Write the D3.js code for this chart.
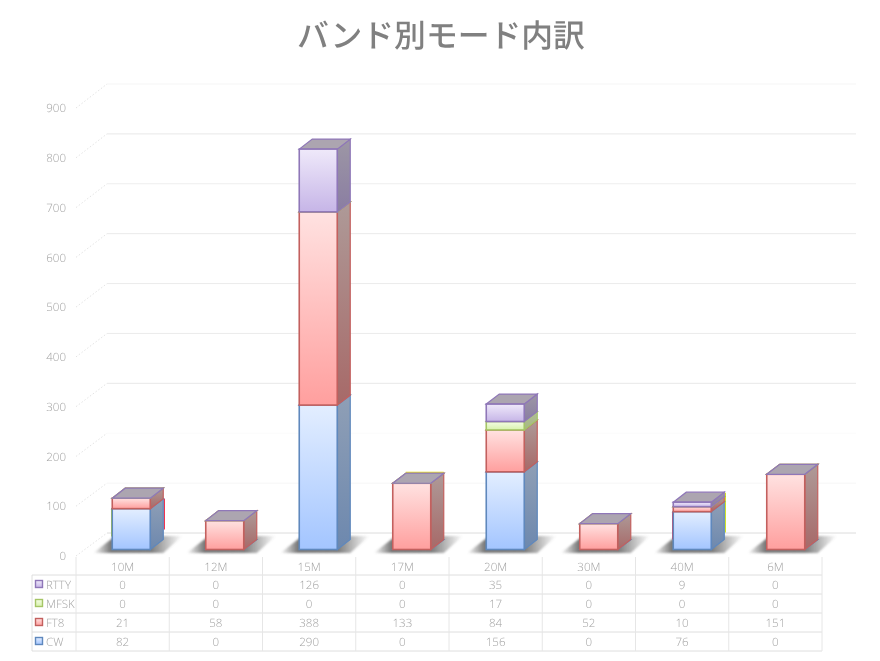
<!DOCTYPE html>
<html><head><meta charset="utf-8">
<script src="https://cdn.jsdelivr.net/npm/d3@7/dist/d3.min.js"></script>
<style>html,body{margin:0;padding:0;background:#fff}svg{display:block}text{text-rendering:geometricPrecision}</style>
</head><body><svg id="c" width="880" height="661"></svg>
<script>
const title = "バンド別モード内訳";
const categories = ["10M","12M","15M","17M","20M","30M","40M","6M"];
const seriesNames = ["CW","FT8","MFSK","RTTY"];
const cw   = [82,0,290,0,156,0,76,0];
const ft8  = [21,58,388,133,84,52,10,151];
const mfsk = [0,0,0,0,17,0,0,0];
const rtty = [0,0,126,0,35,0,9,0];
const yTicks = [0,100,200,300,400,500,600,700,800,900];
const wallShades = ["#dcdcdc","#f6f6f6","#fbfbfb","#e8e8e8","#ebebeb","#ececec","#eaeaea","#eeeeee","#e8e8e8","#f5f5f5"];
// stray edge colours visible behind some bars: category, edge, value range, colour
const strayEdges = [
  ["10M","left",26,83,"#b5d400"],
  ["10M","right",40,102,"#f01030"],
  ["40M","left",20,76,"#f01030"],
  ["40M","right",34,114,"#c8e000"]
];
const strayRoofs = [["17M",133,"#e8e000"]];

const rows = [cw,ft8,mfsk,rtty];
const table = categories.map((c,i)=>{const o={cat:c};seriesNames.forEach((s,j)=>o[s]=rows[j][i]);return o;});
const palette = {
  CW:  {a:"#e3eeff",b:"#a3c5ff",s:"#5f88bd",sa:"#8f9fb6",sb:"#6d88ae"},
  FT8: {a:"#ffe2e1",b:"#ff9f9e",s:"#c3605e",sa:"#ae9a98",sb:"#a76968"},
  MFSK:{a:"#f4fde4",b:"#d7f1ac",s:"#a5c566",sa:"#b0bd98",sb:"#a6b880"},
  RTTY:{a:"#efe9fa",b:"#c6b5e7",s:"#8f77b8",sa:"#9d97a5",sb:"#8a7da2"}
};
const svg = d3.select("#c");
const defs = svg.append("defs");
function vgrad(id,a,b){const g=defs.append("linearGradient").attr("id",id).attr("x1",0).attr("x2",0).attr("y1",0).attr("y2",1);
  g.append("stop").attr("offset",0).attr("stop-color",a);g.append("stop").attr("offset",1).attr("stop-color",b);}
seriesNames.forEach(s=>{const p=palette[s];vgrad("f"+s,p.a,p.b);vgrad("d"+s,p.sa,p.sb);});
const sg=defs.append("linearGradient").attr("id","shadow");
[[0,"#707070",0],[.2,"#707070",.95],[.65,"#707070",.9],[1,"#707070",0]].forEach(d=>sg.append("stop").attr("offset",d[0]).attr("stop-color",d[1]).attr("stop-opacity",d[2]));
defs.append("filter").attr("id","blur").attr("x","-20%").attr("y","-30%").attr("width","140%").attr("height","160%")
  .append("feGaussianBlur").attr("stdDeviation",0.9);

// layout
const left=76,right=822,wallDx=31,depthX=13,depthY=10,barW=38;
const frontAxis=d3.scaleLinear().domain([0,900]).range([556,108]);
const wall=d3.scaleLinear().domain([0,900]).range([533,84]);
const y=d3.scaleLinear().domain([0,900]).range([549.5,101.3]);
const x=d3.scaleBand().domain(categories).range([left,right]);
const xBar=d3.scaleBand().domain(categories).range([84.5,832.5]);
const font="'Open Sans',sans-serif", grey="#a2a2a2";

svg.append("text").attr("x",441).attr("y",47).attr("text-anchor","middle").attr("opacity",0.999)
  .attr("font-family","'Noto Sans CJK JP'").attr("font-weight",500).attr("font-size",31.8).attr("fill","#808080").text(title);

// walls
const g=svg.append("g");
g.selectAll("line.w").data(yTicks).join("line").attr("class","w")
  .attr("x1",left+wallDx).attr("x2",856).attr("y1",d=>wall(d)).attr("y2",d=>wall(d))
  .attr("stroke",(d,i)=>wallShades[i]).attr("stroke-width",1);
g.selectAll("line.s").data(yTicks).join("line").attr("class","s")
  .attr("x1",left).attr("x2",left+wallDx).attr("y1",d=>frontAxis(d)).attr("y2",d=>wall(d))
  .attr("stroke","#dcdcdc").attr("stroke-width",0.8).attr("stroke-dasharray","1.5 2");

const axis=svg.append("g").attr("transform",`translate(${left-10},0)`).attr("opacity",0.999)
  .call(d3.axisLeft(frontAxis).tickValues(yTicks).tickSize(0).tickPadding(0).tickFormat(d3.format("d")));
axis.select(".domain").remove();
axis.selectAll("text").attr("font-family",font).attr("font-weight",300).attr("font-size",11.5).attr("fill",grey);

// shadows
const cx=c=>x(c)+x.bandwidth()/2;
const bx=c=>xBar(c)+xBar.bandwidth()/2;
svg.append("g").selectAll("polygon").data(categories).join("polygon")
  .attr("points",c=>{const l=bx(c)-barW/2;return [[l-19,553],[l+3,536],[l+70,536],[l+51,553]].join(" ");})
  .attr("fill","url(#shadow)").attr("filter","url(#blur)");

// stray edges behind the bars
svg.append("g").selectAll("line").data(strayEdges).join("line")
  .attr("x1",d=>d[1]==="left"?bx(d[0])-barW/2-0.5:bx(d[0])+barW/2+depthX+1)
  .attr("x2",d=>d[1]==="left"?bx(d[0])-barW/2-0.5:bx(d[0])+barW/2+depthX+1)
  .attr("y1",d=>y(d[2])).attr("y2",d=>y(d[3])).attr("stroke",d=>d[4]).attr("stroke-width",1.2);
svg.append("g").selectAll("line").data(strayRoofs).join("line")
  .attr("x1",d=>bx(d[0])-barW/2+depthX).attr("x2",d=>bx(d[0])+barW/2+depthX)
  .attr("y1",d=>y(d[1])-depthY-1).attr("y2",d=>y(d[1])-depthY-1).attr("stroke",d=>d[2]).attr("stroke-width",1.2);

// bars
const stack=d3.stack().keys(seriesNames)(table);
const bars=svg.append("g");
stack.forEach(layer=>{
  const k=layer.key,p=palette[k];
  const gl=bars.append("g");
  gl.selectAll("polygon.side").data(layer).join("polygon").attr("class","side")
    .attr("points",d=>{const r=bx(d.data.cat)+barW/2,a=y(d[1]),b=y(d[0]);
      return [[r,a],[r+depthX,a-depthY],[r+depthX,b-depthY],[r,b]].join(" ");})
    .attr("fill",`url(#d${k})`).attr("stroke",p.s).attr("stroke-width",1.2);
  gl.selectAll("polygon.top").data(layer).join("polygon").attr("class","top")
    .attr("points",d=>{const l=bx(d.data.cat)-barW/2,a=y(d[1]);
      return [[l,a],[l+depthX,a-depthY],[l+barW+depthX,a-depthY],[l+barW,a]].join(" ");})
    .attr("fill","#aca5b0").attr("stroke",p.s).attr("stroke-width",1.2);
  gl.selectAll("rect").data(layer).join("rect")
    .attr("x",d=>bx(d.data.cat)-barW/2).attr("width",barW)
    .attr("y",d=>y(d[1])).attr("height",d=>y(d[0])-y(d[1]))
    .attr("fill",`url(#f${k})`).attr("stroke",p.s).attr("stroke-width",1.6);
});

// data table
const rowY=[575,594,613,632,651], tableLeft=32, headTop=557;
const t=svg.append("g").attr("opacity",0.999);
const lineC="#dedede";
rowY.forEach(v=>t.append("line").attr("x1",tableLeft).attr("x2",right).attr("y1",v).attr("y2",v).attr("stroke",lineC));
t.append("line").attr("x1",tableLeft).attr("x2",tableLeft).attr("y1",rowY[0]).attr("y2",rowY[4]).attr("stroke",lineC);
[...categories.map(c=>x(c)),right].forEach(v=>t.append("line").attr("x1",v).attr("x2",v).attr("y1",headTop).attr("y2",rowY[4]).attr("stroke","#e6e6e6"));
const txt=(xx,yy,s,a)=>t.append("text").attr("x",xx).attr("y",yy).attr("text-anchor",a||"middle").attr("font-family",font).attr("font-weight",300).attr("font-size",11.5).attr("fill",grey).text(s);
categories.forEach(c=>txt(cx(c),571,c));
[...seriesNames].reverse().forEach((s,i)=>{
  const yy=rowY[i];
  t.append("rect").attr("x",35.5).attr("y",yy+5.5).attr("width",7).attr("height",7).attr("fill",`url(#f${s})`).attr("stroke",palette[s].s).attr("stroke-width",1.4);
  txt(46,yy+13.5,s,"start");
  categories.forEach((c,j)=>txt(cx(c),yy+13.5,table[j][s]));
});
</script></body></html>
